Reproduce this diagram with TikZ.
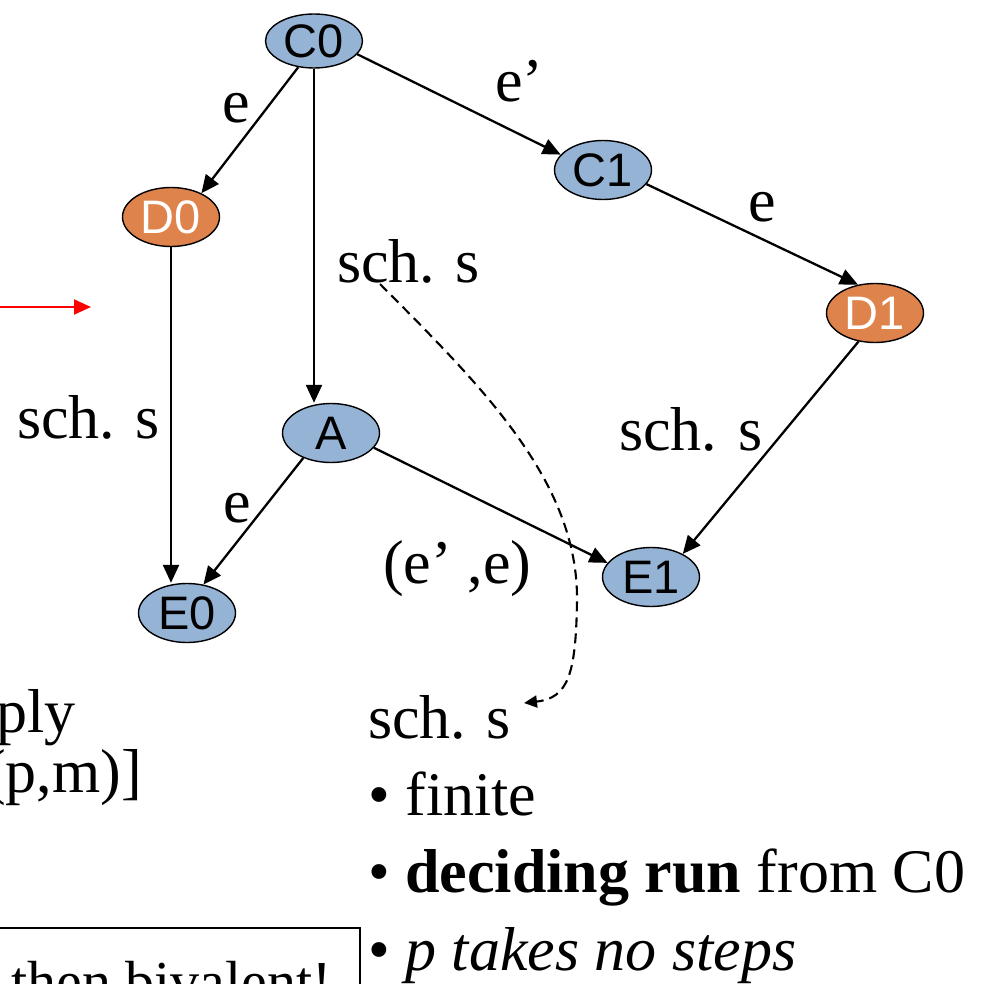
\documentclass[tikz,border=0pt]{standalone}
\usepackage{fontspec}
\setmainfont{Liberation Serif}
\newfontfamily\arialf{Liberation Sans}
\usetikzlibrary{arrows.meta,shapes.geometric}
\definecolor{nodeblue}{RGB}{149,179,213}
\definecolor{nodeorange}{RGB}{222,131,76}
\begin{document}
\begin{tikzpicture}[x=1pt,y=-1pt,
  state/.style={ellipse,draw=black,line width=1.4pt,minimum width=97pt,minimum height=59pt,inner sep=0pt,font=\arialf\fontsize{47}{47}\selectfont},
  bluestate/.style={state,fill=nodeblue},
  orangestate/.style={state,fill=nodeorange,text=white},
  edgearrow/.style={line width=2.3pt,-{Triangle[length=18pt,width=16pt]}},
  lbl/.style={inner sep=0pt,anchor=base west,font=\fontsize{62}{62}\selectfont},
  boxtext/.style={inner sep=0pt,anchor=base west,font=\fontsize{58}{58}\selectfont},
  dashline/.style={line width=2.1pt,dash pattern=on 10pt off 6pt,-{Triangle[length=13pt,width=12pt]}},
  redarrow/.style={draw=red,line width=2pt,-{Triangle[length=17pt,width=15pt]}},
]
\useasboundingbox (0,0) rectangle (1003,984);

% states
\node[bluestate,minimum height=54pt] (C0) at (314,41) {C0};
\node[bluestate] (C1) at (603,170) {C1};
\node[orangestate] (D0) at (171,217) {D0};
\node[orangestate] (D1) at (875,313) {D1};
\node[bluestate] (A) at (331,433) {A};
\node[bluestate] (E0) at (187,613) {E0};
\node[bluestate] (E1) at (651,577) {E1};

% edges
\draw[edgearrow] (C0.239) -- (D0.38);
\draw[edgearrow] (C0.south) -- (C0.south |- A.north);
\draw[edgearrow] (C0.-17) -- (C1.160);
\draw[edgearrow] (C1.-18) -- (D1.121);
\draw[edgearrow] (D0.south) -- (D0.south |- E0.north);
\draw[edgearrow] (D1.240) -- (E1.36);
\draw[edgearrow] (A.222) -- (E0.60);
\draw[edgearrow] (A.-19) -- (E1.162);

% edge labels
\node[lbl] (le1) at (222,123) {e};
\node[lbl] (le2) at (495,102) {e’};
\node[lbl] (le3) at (748,222) {e};
\node[lbl] (ls1) at (337,282) {sch. s};
\node[lbl] (ls2) at (17,438) {sch. s};
\node[lbl] (ls3) at (619,450) {sch. s};
\node[lbl] (le4) at (223,522) {e};
\node[lbl] (lee) at (383,583) {(e’ ,e)};

% dashed connector
\coordinate (ds) at (380,284);
\coordinate (de) at (524,703);
\draw[dashline] (ds) .. controls (480,385) and (578,480) .. (577,600) .. controls (576,675) and (568,698) .. (de);

% right text
\node[lbl] (ls4) at (368,738) {sch. s};
\node[lbl] (b1) at (368,815) {• finite};
\node[lbl] (b2) at (368,892) {• \textbf{deciding run} from C0};
\node[lbl] (b3) at (368,970) {• \textit{p takes no steps}};

% left text (cut off at the left edge, as in the reference)
\node[lbl,anchor=base east] (t1) at (76,732) {ply};
\node[lbl,anchor=base east] (t2) at (142,792) {(p,m)]};

% red arrow
\coordinate (rs) at (-10,307);
\coordinate (re) at (91,307);
\draw[redarrow] (rs) -- (re);

% box
\draw[line width=1.5pt] (-10,928) rectangle (360,1020);
\node[boxtext] (bt) at (11,1001) {then bivalent!};
\end{tikzpicture}
\end{document}
